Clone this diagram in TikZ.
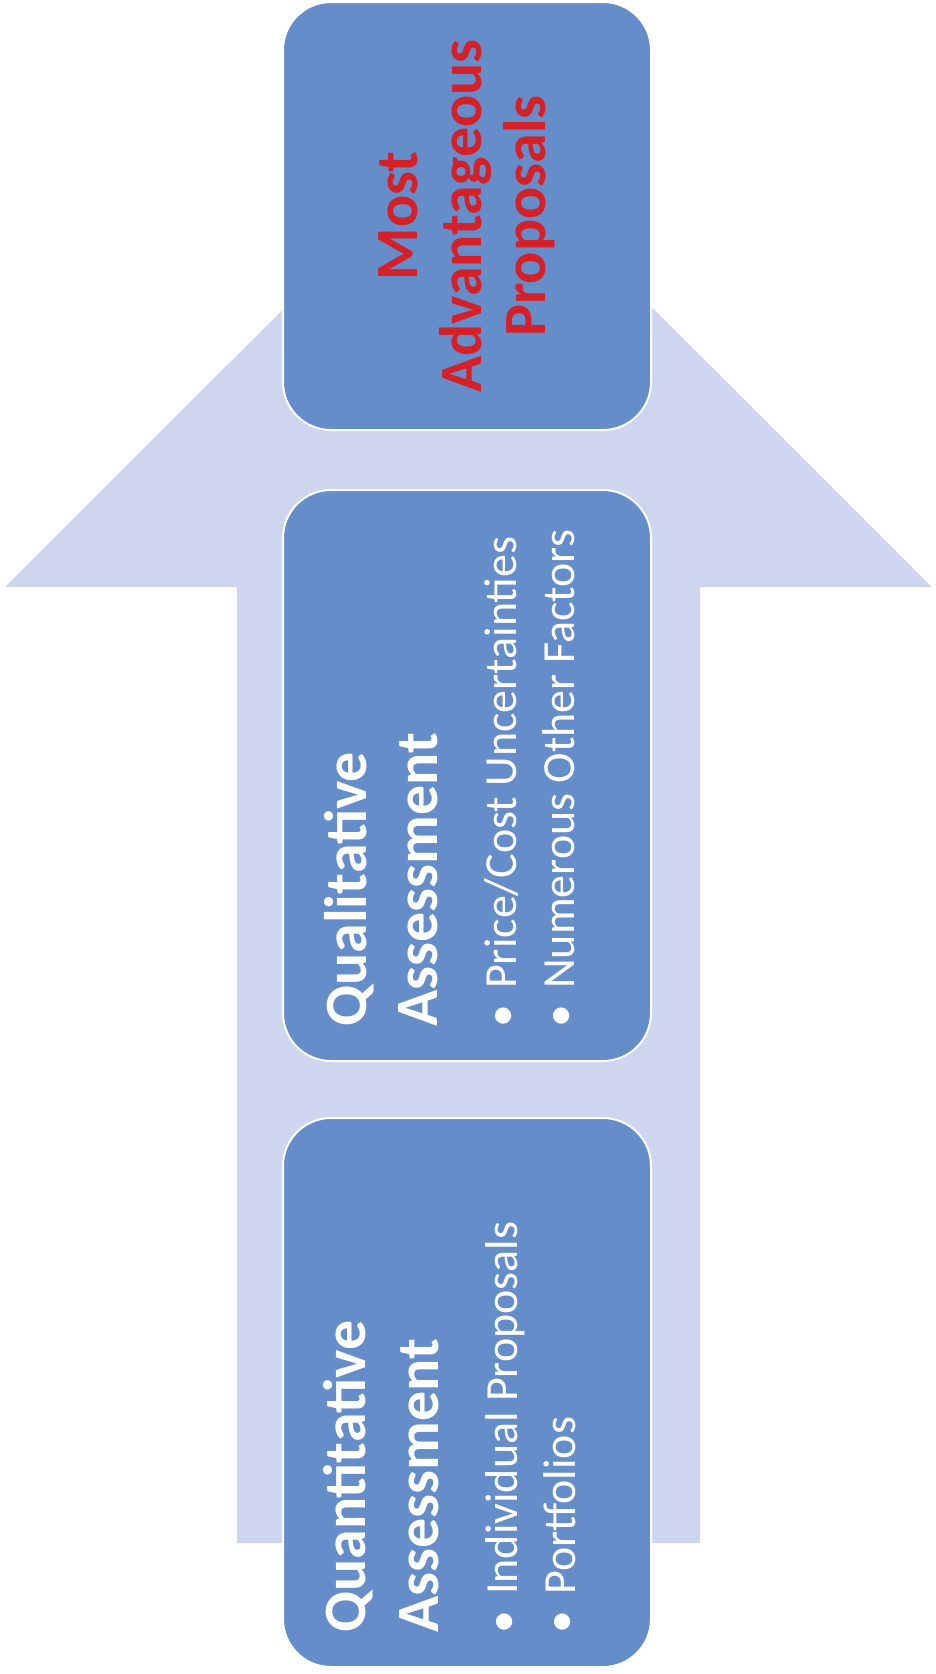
\documentclass[tikz,border=0pt]{standalone}
\usepackage{fontspec}
\setmainfont{Carlito}
\usetikzlibrary{positioning}
\definecolor{boxblue}{RGB}{100,141,202}
\definecolor{arrowlav}{RGB}{206,213,238}
\definecolor{propred}{RGB}{214,32,40}

\begin{document}
\begin{tikzpicture}[x=1pt, y=-1pt,
    stepbox/.style={draw=white, line width=2pt, fill=boxblue, rounded corners=48pt,
      minimum width=368pt, inner sep=0pt},
    headline/.style={rotate=90, anchor=base west, inner sep=0pt,
      text=white, font=\fontsize{60}{70}\selectfont\bfseries},
    itemline/.style={rotate=90, anchor=base west, inner sep=0pt,
      text=white, font=\fontsize{46}{58}\selectfont}]
    \useasboundingbox (0,0) rectangle (935,1674);

    % big upward arrow
    \fill[arrowlav] (237,1543) -- (237,587) -- (5,587) -- (468.5,124)
        -- (932,587) -- (700,587) -- (700,1543) -- cycle;

    % the three steps
    \node[stepbox, minimum height=549pt] (quant) at (467,1392.5) {};
    \node[stepbox, minimum height=571pt] (qual) at (467,775.5) {};
    \node[stepbox, minimum height=428pt] (best) at (467,216) {};

    % first step
    \node[headline] (quanthead1) at ([xshift=83pt, yshift=35pt]quant.south west) {Quantitative};
    \node[headline] (quanthead2) at ([xshift=156pt, yshift=35pt]quant.south west) {Assessment};
    \node[itemline] (quantitem1) at ([xshift=235pt, yshift=34pt]quant.south west)
        {•\hspace{0.35em}Individual Proposals};
    \node[itemline] (quantitem2) at ([xshift=293pt, yshift=34pt]quant.south west)
        {•\hspace{0.35em}Portfolios};

    % second step
    \node[headline] (qualhead1) at ([xshift=84pt, yshift=35pt]qual.south west) {Qualitative};
    \node[headline] (qualhead2) at ([xshift=155pt, yshift=35pt]qual.south west) {Assessment};
    \node[itemline] (qualitem1) at ([xshift=234pt, yshift=34pt]qual.south west)
        {•\hspace{0.35em}Price/Cost Uncertainties};
    \node[itemline] (qualitem2) at ([xshift=292pt, yshift=34pt]qual.south west)
        {•\hspace{0.35em}Numerous Other Factors};

    % result
    \node[rotate=90, align=center, inner sep=0pt, text=propred,
        font=\fontsize{60}{64}\selectfont\bfseries] (besttext) at (best)
        {Most\\Advantageous\\Proposals};
\end{tikzpicture}
\end{document}
